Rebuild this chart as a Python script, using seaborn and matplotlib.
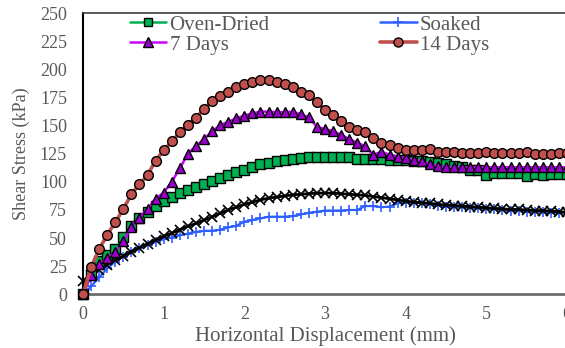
import numpy as np
import pandas as pd
import matplotlib
matplotlib.use("Agg")
import matplotlib.pyplot as plt
import seaborn as sns
from matplotlib.lines import Line2D

# ---------------- data ----------------
disp = [round(0.1 * i, 1) for i in range(61)]

oven_dried = [0, 17, 30, 35, 40, 51, 61, 67.5, 73.5, 79,
              83, 86.5, 90, 92.5, 95.5, 98, 101, 103.5, 106, 108.5,
              111, 113, 115.5, 117, 118.5, 119.5, 120.5, 121, 122, 122,
              122, 122, 122, 122, 120.5, 120.5, 120.5, 120.5, 119.5, 119.5,
              119.5, 119, 119, 118, 117, 116, 114, 113.5, 111, 110.5,
              106, 107.5, 107.5, 107.5, 107.5, 105.5, 107, 106.5, 107, 107,
              107]

soaked = [0, 7, 15, 23, 29, 33.5, 38, 41, 44, 46.5,
          49, 50.5, 52.5, 54, 55.5, 56.5, 56.5, 57.5, 59.5, 61,
          64.5, 66, 67.5, 69, 69, 69, 69.5, 71, 72.5, 73.5,
          74.5, 74.5, 74.5, 75, 75, 78.5, 78.5, 77.5, 78, 81,
          81.5, 81.5, 81, 80, 79, 78, 78, 77.5, 77, 76.5,
          76, 75.5, 75, 74, 74, 73.5, 73.5, 73, 72.5, 72.5,
          72]

days7 = [0, 17, 27, 32, 38, 47, 60, 68, 76, 85,
         90.5, 100, 112, 125, 132, 138, 145, 150.5, 153.5, 156.5,
         159, 161, 162.5, 162.5, 162, 162, 162.5, 160, 157.5, 149,
         147, 145, 142, 138, 135, 131.5, 124, 127, 124, 122.5,
         121, 119.5, 118.5, 116, 114, 113.5, 113, 113, 113, 113,
         113, 113, 113, 113, 113, 113, 113, 113, 113, 113,
         113]

days14 = [0, 24, 40, 53, 64, 76, 89, 98, 106, 119,
          128, 136, 144, 151, 157, 165, 172, 176, 180, 184,
          187, 189, 190.5, 190.5, 189, 187, 184, 180, 177, 171,
          164, 159.5, 154, 149, 146, 144, 139, 135, 133, 130,
          128.5, 128.5, 128, 129, 127, 126.5, 126.5, 126, 126, 126,
          127, 125.5, 126, 125.5, 125.5, 126.5, 125, 125, 125, 125.5,
          125.5]

model = [12, 17, 22, 26.5, 30.5, 34, 38, 41.5, 45, 48.5,
         51.5, 54.5, 57.5, 60.5, 63, 66, 69, 72, 75, 77.5,
         80, 82, 84, 85.5, 86.5, 87.5, 88.5, 89, 89.5, 90,
         90, 90, 89.5, 89, 88.5, 88, 87, 86, 85, 84,
         83, 82, 81.5, 81, 80, 79.5, 79, 78.5, 78, 77.5,
         77, 76.5, 76, 75.5, 75.5, 75, 74.5, 74.5, 74, 73.5,
         73]

x_ticks = [0, 1, 2, 3, 4, 5, 6]
y_ticks = [0, 25, 50, 75, 100, 125, 150, 175, 200, 225, 250]
legend_labels = ["Oven-Dried", "7 Days", "Soaked", "14 Days"]

# ---------------- style ----------------
sns.set_style("white")
plt.rcParams['font.family'] = ['Liberation Serif', 'DejaVu Serif']
GREY = "#595959"

W, H = 565, 348
fig = plt.figure(figsize=(W / 100, H / 100), dpi=100)
x0, x6 = 83, 567
y0, y250 = 294.3, 13.3
ax = fig.add_axes([x0 / W, (H - y0) / H, (x6 - x0) / W, (y0 - y250) / H])

df = pd.DataFrame({"disp": disp, "oven": oven_dried, "soaked": soaked,
                   "d7": days7, "d14": days14, "model": model})

common = dict(ax=ax, estimator=None, sort=False, legend=False, clip_on=False)
sns.lineplot(data=df, x="disp", y="soaked", color="#2F5FFF", lw=1.6,
             marker="+", ms=7, mew=1.2, mec="#2F5FFF", zorder=3, **common)
sns.lineplot(data=df, x="disp", y="model", color="black", lw=2.0,
             marker="x", ms=6.5, mew=1.2, mec="black", zorder=4, **common)
sns.lineplot(data=df, x="disp", y="oven", color="#00B050", lw=1.8,
             marker="s", ms=6.5, mfc="#00B050", mec="black", mew=1.0, zorder=5, **common)
sns.lineplot(data=df, x="disp", y="d7", color="#CC00FF", lw=1.8,
             marker="^", ms=7, mfc="#9900CC", mec="black", mew=1.0, zorder=6, **common)
sns.lineplot(data=df, x="disp", y="d14", color="#C0504D", lw=2.6,
             marker="o", ms=7, mfc="#C0504D", mec="black", mew=1.0, zorder=7, **common)

ax.set_xlim(0, 6)
ax.set_ylim(0, 250)
ax.set_xticks(x_ticks)
ax.set_yticks(y_ticks)
ax.tick_params(axis="both", length=0, labelsize=13, labelcolor=GREY)
ax.tick_params(axis="y", pad=11.5)
ax.tick_params(axis="x", pad=8.5)
ax.set_xlabel("Horizontal Displacement (mm)", fontsize=15, color=GREY, labelpad=2)
ax.set_ylabel("Shear Stress (kPa)", fontsize=13, color=GREY, labelpad=7)

ax.spines["left"].set_color("black")
ax.spines["left"].set_linewidth(1.5)
ax.spines["top"].set_color("#404040")
ax.spines["top"].set_linewidth(1.2)
ax.spines["bottom"].set_color("#6E6E6E")
ax.spines["bottom"].set_linewidth(2.0)
ax.spines["right"].set_visible(False)
for sp in ax.spines.values():
    sp.set_zorder(2)

h_oven = Line2D([], [], color="#00B050", lw=1.8, marker="s", ms=6, mfc="#00B050", mec="black")
h_soak = Line2D([], [], color="#2F5FFF", lw=1.8, marker="+", ms=7, mew=1.2)
h_d7 = Line2D([], [], color="#CC00FF", lw=1.8, marker="^", ms=6.5, mfc="#9900CC", mec="black")
h_d14 = Line2D([], [], color="#C0504D", lw=2.6, marker="o", ms=6.5, mfc="#C0504D", mec="black")
leg = ax.legend([h_oven, h_d7, h_soak, h_d14], legend_labels,
                ncol=2, frameon=False, fontsize=15, loc="upper left",
                bbox_to_anchor=(130 / W, 1 - 15 / H), bbox_transform=fig.transFigure,
                handlelength=1.75, handletextpad=0.15, columnspacing=5.3,
                labelspacing=0.02, borderaxespad=0, borderpad=0)
leg.set_zorder(20)
for t in leg.get_texts():
    t.set_color(GREY)

fig.savefig("out.png", dpi=100)
